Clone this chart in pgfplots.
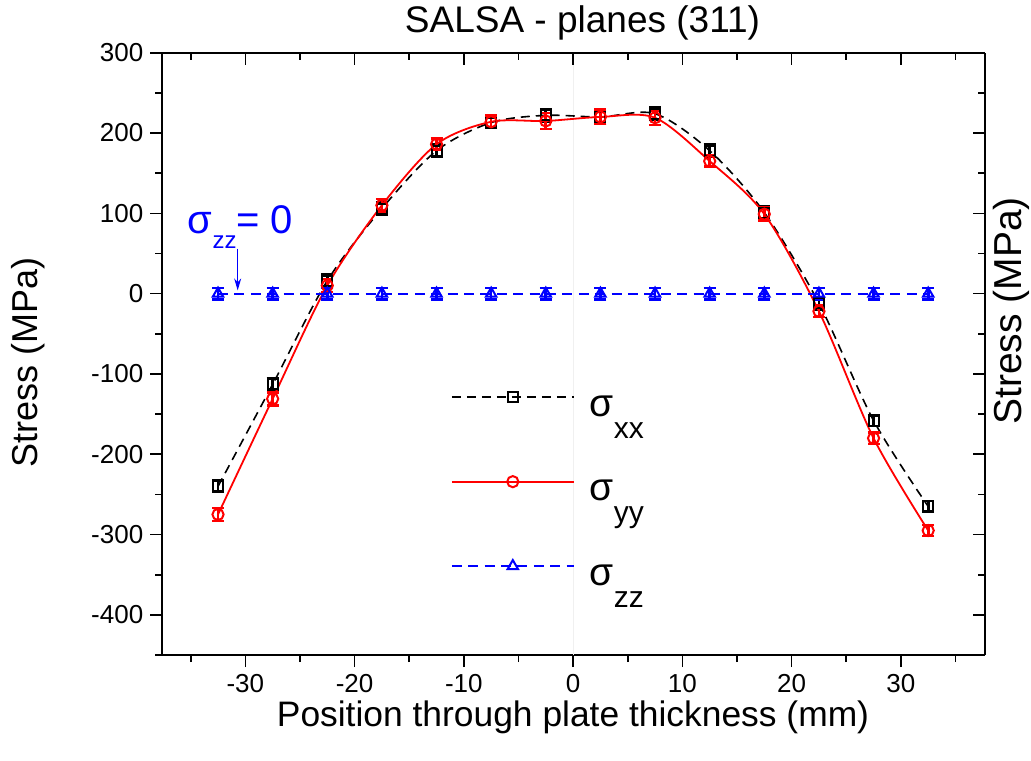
\documentclass[border=0pt]{standalone}
\usepackage{fontspec}
\setmainfont{Liberation Sans}
\usepackage{pgfplots}
\usepackage{pgfplotstable}
\pgfplotsset{compat=1.18}
\usetikzlibrary{arrows.meta}

\pgfplotstableread{
x     sxx  exx  syy  eyy  szz  ezz
-32.5 -240 7    -275 8    0    7
-27.5 -113 7    -131 8    0    7
-22.5 16   8    10   8    0    7
-17.5 106  8    110  8    0    7
-12.5 178  8    186  7    0    7
-7.5  213  7    214  8    0    7
-2.5  222  8    215  10   0    7
2.5   220  8    220  9    0    7
7.5   224  8    219  9    0    7
12.5  178  8    165  7    0    7
17.5  101  8    99   8    0    7
22.5  -12  8    -22  7    0    7
27.5  -158 7    -180 7    0    7
32.5  -265 7    -295 7    0    7
}\datatable

\newcommand{\sig}[1]{\raisebox{-9.5pt}[0pt][0pt]{\fontsize{19.5}{20}\selectfont σ\raisebox{-11pt}{\fontsize{15}{15}\selectfont #1}}}

\begin{document}
\begin{tikzpicture}
\path[use as bounding box] (-81.15pt,-52.5pt) rectangle (434.35pt,327.5pt);
\begin{axis}[
  at={(0pt,0pt)}, anchor=south west,
  width=411.35pt, height=301.15pt, scale only axis,
  xmin=-37.6, xmax=37.7, ymin=-450, ymax=300,
  axis x line*=bottom, axis y line*=left,
  axis line style={line width=0.9pt, -},
  tick align=outside,
  xtick={-30,-20,...,30}, minor xtick={-35,-25,...,35},
  ytick={-400,-300,...,300}, minor ytick={-450,-350,...,250},
  major tick length=6pt, minor tick length=3.5pt,
  every tick/.style={line width=0.8pt, black},
  /pgf/number format/assume math mode=true,
  ticklabel style={font=\fontsize{13}{15}\selectfont},
  legend cell align=left,
  legend style={at={(axis cs:-11.23,-76)}, anchor=north west, draw=none, fill=none,
    inner sep=0pt, row sep=0pt, column sep=7.5pt,
    nodes={inner sep=0pt, text height=21.1pt, text depth=21.1pt}},
  legend image code/.code={\draw[mark repeat=2,mark phase=2,#1] plot coordinates {(0pt,0pt)(30.5pt,0pt)(61pt,0pt)};},
]
\draw[black!6, line width=0.6pt] (axis cs:0,-450) -- (axis cs:0,300);
\addplot[forget plot, color=black, line width=0.8pt, dash pattern=on 4.5pt off 3pt, smooth, mark=square, mark size=2.5pt,
  mark options={solid, line width=1pt},
  error bars/.cd, y dir=both, y explicit,
  error bar style={solid, line width=1.3pt},
  error mark options={solid, rotate=90, mark size=3pt, line width=1.3pt}]
  table[x=x, y=sxx, y error=exx] {\datatable};
\addplot[forget plot, color=red, line width=0.9pt, smooth, mark=o, mark size=2.8pt,
  mark options={solid, line width=1pt},
  error bars/.cd, y dir=both, y explicit,
  error bar style={solid, line width=1.3pt},
  error mark options={solid, rotate=90, mark size=3pt, line width=1.3pt}]
  table[x=x, y=syy, y error=eyy] {\datatable};
\addplot[forget plot, color=blue, line width=1pt, dash pattern=on 5pt off 3.2pt, mark=triangle, mark size=3pt,
  mark options={solid, line width=1pt},
  error bars/.cd, y dir=both, y explicit,
  error bar style={solid, line width=1.3pt},
  error mark options={solid, rotate=90, mark size=3pt, line width=1.3pt}]
  table[x=x, y=szz, y error=ezz] {\datatable};
\addlegendimage{color=black, draw=black, line width=0.8pt, dash pattern=on 4.5pt off 3pt, mark=square, mark size=2.4pt, mark options={solid, line width=1pt}}
\addlegendentry{\sig{xx}}
\addlegendimage{color=red, draw=red, line width=0.9pt, mark=o, mark size=2.8pt, mark options={solid, line width=1pt}}
\addlegendentry{\sig{yy}}
\addlegendimage{color=blue, draw=blue, line width=1pt, dash pattern=on 5pt off 3.2pt, mark=triangle, mark size=3pt, mark options={solid, line width=1pt}}
\addlegendentry{\sig{zz}}
\node[anchor=base west, text=blue, inner sep=0pt] at (axis cs:-35.3,75)
  {\fontsize{20}{20}\selectfont σ\raisebox{-7.5pt}{\fontsize{12}{12}\selectfont zz}= 0};
\draw[blue, line width=0.6pt, -{Stealth[length=6pt,width=3.5pt]}] (axis cs:-30.7,56) -- (axis cs:-30.7,4);
\end{axis}
\begin{axis}[
  at={(0pt,0pt)}, anchor=south west,
  width=411.35pt, height=301.15pt, scale only axis,
  xmin=-37.6, xmax=37.7, ymin=-450, ymax=300,
  axis x line*=top, axis y line*=right,
  axis line style={line width=1.1pt, -},
  tick align=inside,
  xtick={-30,-20,...,30}, minor xtick={-35,-25,...,35},
  ytick={-400,-300,...,300}, minor ytick={-450,-350,...,250},
  major tick length=6pt, minor tick length=3.5pt,
  every tick/.style={line width=0.8pt, black},
  xticklabels={}, yticklabels={},
]
\end{axis}
\node[anchor=base, font=\fontsize{18.5}{20}\selectfont] at (210.1pt,311pt) {SALSA - planes (311)};
\node[anchor=base, font=\fontsize{17.7}{20}\selectfont] at (205.35pt,-35.5pt) {Position through plate thickness (mm)};
\node[rotate=90, font=\fontsize{18}{20}\selectfont] at (-67.15pt,146.25pt) {Stress (MPa)};
\node[rotate=90, font=\fontsize{19.5}{20}\selectfont] at (424.6pt,172pt) {Stress (MPa)};
\end{tikzpicture}
\end{document}
